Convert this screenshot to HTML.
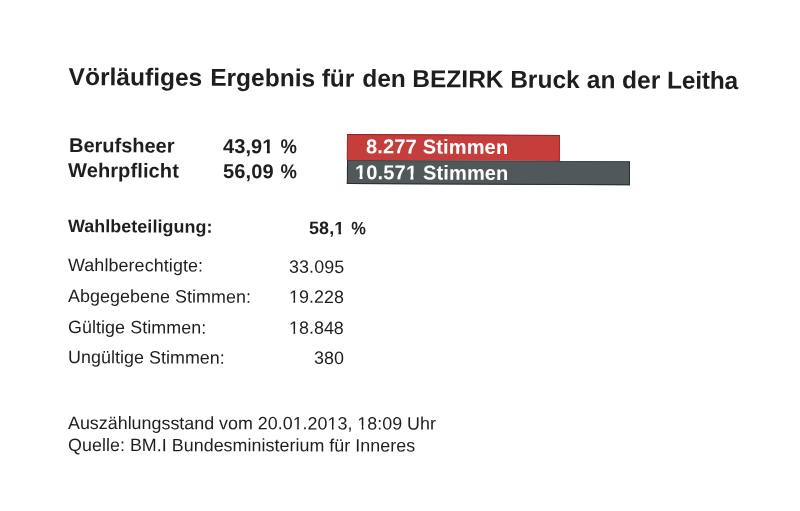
<!DOCTYPE html>
<html><head><meta charset="utf-8"><style>
html,body{margin:0;padding:0;background:#fff;}
body{width:800px;height:511px;overflow:hidden;position:relative;}
.t{position:absolute;white-space:nowrap;line-height:1;filter:grayscale(1);font-family:"Liberation Sans",sans-serif;color:#1c1e20;}
.b{position:absolute;transform-origin:0 0;box-sizing:border-box;}
.ob{display:inline-block;clip-path:polygon(-1em -1em,2em -1em,2em .55em,.378em .55em,.378em 2em,.225em 2em,.225em .55em,-1em .55em);}
.or{display:inline-block;clip-path:polygon(-1em -1em,2em -1em,2em .55em,.346em .55em,.346em 2em,.245em 2em,.245em .55em,-1em .55em);}
.pc{display:inline-block;transform:scaleX(.92);transform-origin:100% 50%;}
</style></head><body>
<div class="b" style="left:346.90px;top:134.00px;width:213.0px;height:26.0px;background:#c53e3b;border:1px solid #a82a2a;border-top-color:#9c2222;border-bottom:0;transform:rotate(0.3deg)"></div>
<div class="b" style="left:346.90px;top:160.00px;width:283.2px;height:24.0px;background:#50585a;border:1px solid #2a2f31;border-top-color:#41484a;transform:rotate(0.26deg)"></div>
<div class="t" style="left:68.73px;top:65.03px;font-size:24.5px;font-weight:bold;transform-origin:0 20.74px;transform:rotate(0.345deg);letter-spacing:0.019px;"><span style="position:relative;left:-0.4px;">Vörläufiges</span> <span style="position:relative;left:0.7px;">Ergebnis</span> <span style="position:relative;left:0.36px;">für</span> <span style="position:relative;left:1.38px;">den</span> <span style="position:relative;left:1.0px;">BEZIRK</span> <span style="position:relative;left:0.74px;">Bruck</span> <span style="position:relative;left:0.96px;">an</span> <span style="position:relative;left:0.77px;">der</span> <span style="position:relative;left:0.72px;letter-spacing:-0.2px;">Leitha</span></div>
<div class="t" style="left:69.11px;top:134.95px;font-size:20px;font-weight:bold;transform-origin:0 16.93px;transform:rotate(0.33deg);letter-spacing:-0.020px;">Berufsheer</div>
<div class="t" style="left:67.81px;top:160.18px;font-size:20px;font-weight:bold;transform-origin:0 16.93px;transform:rotate(0.33deg);letter-spacing:0.120px;">Wehrpflicht</div>
<div class="t" style="left:222.81px;top:135.90px;font-size:20px;font-weight:bold;transform-origin:0 16.93px;transform:rotate(0.33deg);letter-spacing:0.104px;">43,9<span class="ob">1</span> <span class="pc">%</span></div>
<div class="t" style="left:223.19px;top:161.07px;font-size:20px;font-weight:bold;transform-origin:0 16.93px;transform:rotate(0.33deg);letter-spacing:0.146px;">56,09 <span class="pc">%</span></div>
<div class="t" style="right:292.20px;top:137.02px;font-size:20px;font-weight:bold;color:#fff;transform-origin:100% 16.93px;transform:rotate(0.33deg);letter-spacing:0.170px;">8.277 Stimmen</div>
<div class="t" style="right:291.44px;top:162.50px;font-size:20px;font-weight:bold;color:#fff;transform-origin:100% 16.93px;transform:rotate(0.33deg);letter-spacing:0.162px;"><span class="ob">1</span>0.57<span class="ob">1</span> Stimmen</div>
<div class="t" style="left:67.74px;top:218.18px;font-size:17.85px;font-weight:bold;transform-origin:0 15.11px;transform:rotate(0.33deg);letter-spacing:0.086px;">Wahlbeteiligung:</div>
<div class="t" style="left:309.47px;top:220.14px;font-size:17.85px;font-weight:bold;transform-origin:0 15.11px;transform:rotate(0.33deg);letter-spacing:0.183px;">58,<span class="ob">1</span> <span class="pc">%</span></div>
<div class="t" style="left:68.41px;top:257.08px;font-size:17.85px;transform-origin:0 15.11px;transform:rotate(0.27deg);letter-spacing:0.117px;">Wahlberechtigte:</div>
<div class="t" style="left:67.77px;top:287.97px;font-size:17.85px;transform-origin:0 15.11px;transform:rotate(0.27deg);letter-spacing:0.077px;">Abgegebene Stimmen:</div>
<div class="t" style="left:68.39px;top:319.18px;font-size:17.85px;transform-origin:0 15.11px;transform:rotate(0.27deg);letter-spacing:0.083px;">Gültige Stimmen:</div>
<div class="t" style="left:67.76px;top:349.36px;font-size:17.85px;transform-origin:0 15.11px;transform:rotate(0.27deg);letter-spacing:0.064px;">Ungültige Stimmen:</div>
<div class="t" style="right:455.68px;top:259.06px;font-size:17.85px;transform-origin:100% 15.11px;transform:rotate(0.27deg);letter-spacing:0.110px;">33.095</div>
<div class="t" style="right:455.64px;top:288.99px;font-size:17.85px;transform-origin:100% 15.11px;transform:rotate(0.27deg);letter-spacing:0.069px;"><span class="or">1</span>9.228</div>
<div class="t" style="right:456.60px;top:319.76px;font-size:17.85px;transform-origin:100% 15.11px;transform:rotate(0.27deg);letter-spacing:0.037px;"><span class="or">1</span>8.848</div>
<div class="t" style="right:456.25px;top:349.54px;font-size:17.85px;transform-origin:100% 15.11px;transform:rotate(0.27deg);letter-spacing:0.040px;">380</div>
<div class="t" style="left:67.97px;top:414.63px;font-size:17.85px;transform-origin:0 15.11px;transform:rotate(0.09deg);letter-spacing:0.019px;">Auszählungsstand vom 20.0<span class="or">1</span>.20<span class="or">1</span>3, <span class="or">1</span>8:09 Uhr</div>
<div class="t" style="left:68.14px;top:436.77px;font-size:17.85px;transform-origin:0 15.11px;transform:rotate(0.09deg);letter-spacing:0.049px;">Quelle: BM.I Bundesministerium für Inneres</div>
</body></html>
